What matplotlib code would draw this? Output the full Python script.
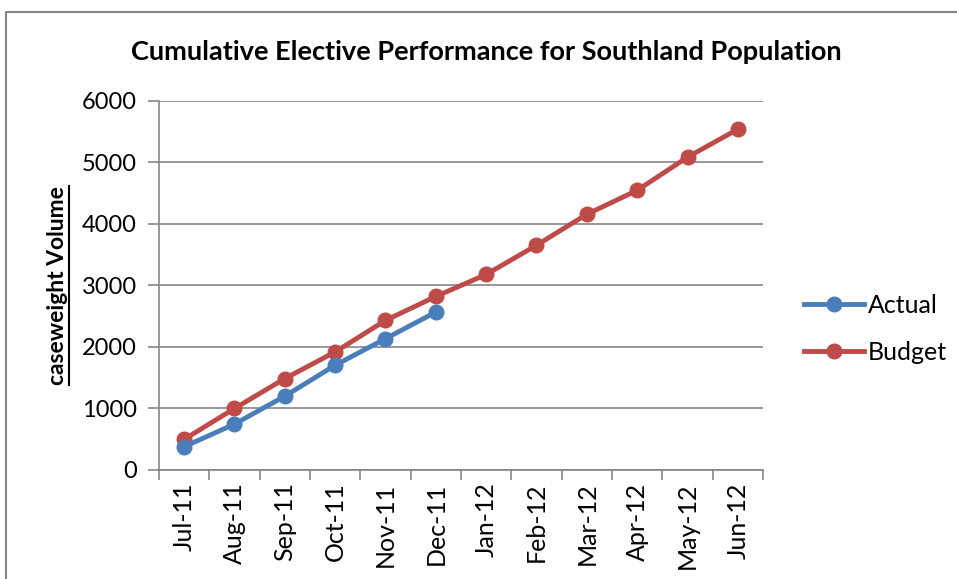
import matplotlib.pyplot as plt
from matplotlib.lines import Line2D

plt.rcParams['font.family'] = ['Lato', 'DejaVu Sans']

# data
months = ['Jul-11', 'Aug-11', 'Sep-11', 'Oct-11', 'Nov-11', 'Dec-11',
          'Jan-12', 'Feb-12', 'Mar-12', 'Apr-12', 'May-12', 'Jun-12']
actual = [378, 746, 1200, 1703, 2135, 2567]
budget = [497, 1000, 1486, 1919, 2432, 2821, 3179, 3654, 4158, 4547, 5087, 5541]

blue = '#4A7EBB'
red = '#BE4B48'
grey = '#868686'

fig = plt.figure(figsize=(9.57, 5.79), dpi=100)
ax = fig.add_axes([0.1661, 0.1883, 0.6312, 0.6373])

x_actual = range(len(actual))
x_budget = range(len(budget))
ax.plot(x_actual, actual, color=blue, lw=3.5, marker='o', ms=10.5, label='Actual', zorder=4)
ax.plot(x_budget, budget, color=red, lw=3.5, marker='o', ms=10.5, label='Budget', zorder=3)

ax.set_xlim(-0.5, len(months) - 0.5)
ax.set_ylim(0, 6000)
ax.set_yticks(range(0, 6001, 1000))
ax.yaxis.grid(True, color=grey, lw=1.2)
ax.set_axisbelow(True)

# category labels at centres, tick marks at boundaries
ax.set_xticks(range(len(months)))
ax.set_xticklabels(months, rotation=90, fontsize=18)
ax.set_xticks([i - 0.5 for i in range(len(months) + 1)], minor=True)
ax.tick_params(axis='x', which='major', length=0, pad=9)
ax.tick_params(axis='x', which='minor', length=7, width=1.2, color=grey, direction='out')
ax.tick_params(axis='y', length=8, width=1.2, color=grey, labelsize=17, pad=8)

for s in ['top', 'right']:
    ax.spines[s].set_visible(False)
for s in ['left', 'bottom']:
    ax.spines[s].set_color(grey)
    ax.spines[s].set_linewidth(1.2)

ylab = ax.set_ylabel('caseweight Volume', fontsize=16.5, fontweight='bold', labelpad=10)

fig.text(0.508, 0.91, 'Cumulative Elective Performance for Southland Population',
         ha='center', va='center', fontsize=19.5, fontweight='bold')

fig.legend(loc='center left', bbox_to_anchor=(0.83, 0.432), frameon=False,
           fontsize=18, handlelength=2.4, handletextpad=0.15, labelspacing=0.95,
           borderaxespad=0)

# underline for the rotated y label (sits on its right side)
fig.canvas.draw()
bb = ylab.get_window_extent().transformed(fig.transFigure.inverted())
fig.add_artist(Line2D([bb.x1 + 0.001, bb.x1 + 0.001], [bb.y0, bb.y1],
                      color='black', lw=1.5, transform=fig.transFigure))

# outer chart frame (top and left edges only visible)
fig.add_artist(Line2D([6 / 957, 6 / 957, 1], [0, 1 - 12 / 579, 1 - 12 / 579],
                      color=grey, lw=1.5, transform=fig.transFigure))

fig.savefig('out.png', dpi=100)
